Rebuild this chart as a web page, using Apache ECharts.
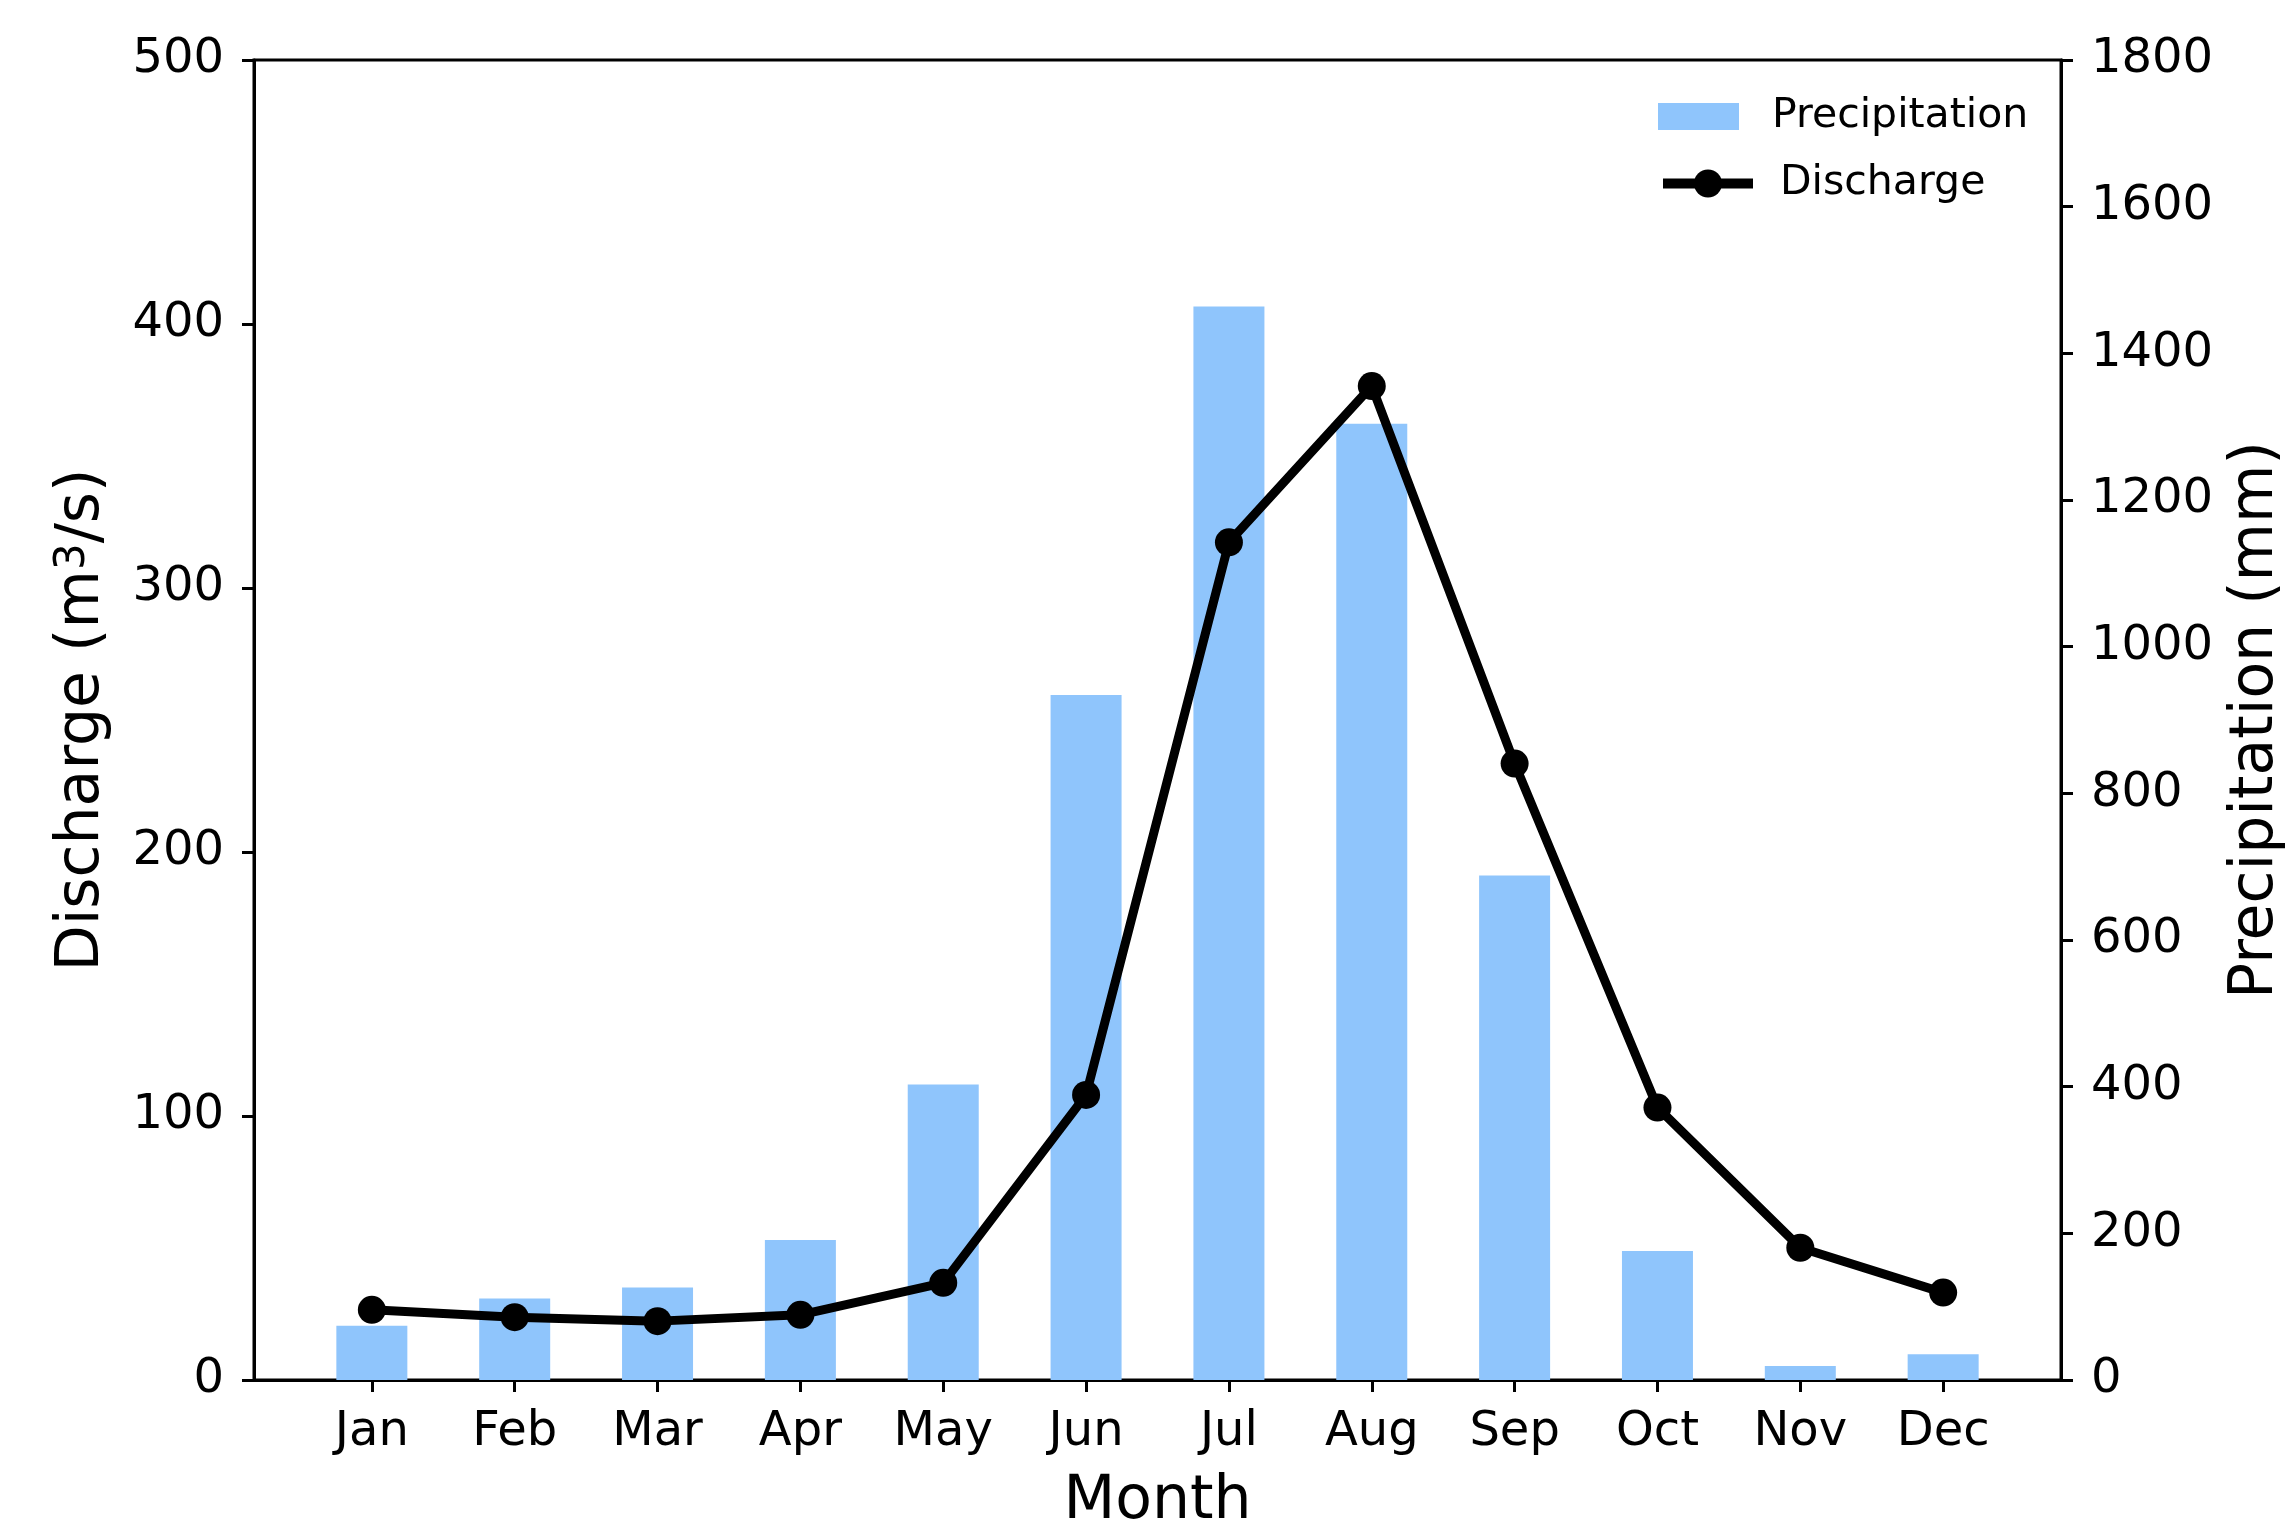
<!DOCTYPE html>
<html>
<head>
<meta charset="utf-8">
<script src="https://cdn.jsdelivr.net/npm/echarts@6/dist/echarts.min.js"></script>
<style>
html,body{margin:0;padding:0;background:#fff;}
#chart{width:2286px;height:1530px;}
</style>
</head>
<body>
<div id="chart"></div>
<script>
const months = ['Jan','Feb','Mar','Apr','May','Jun','Jul','Aug','Sep','Oct','Nov','Dec'];
const precipitation = [74, 111, 126, 191, 403, 934, 1464, 1304, 688, 176, 19, 35];
const discharge = [26.6, 23.8, 22.3, 24.7, 36.8, 108, 317.3, 376.5, 233.5, 103.2, 50.1, 33.1];
const dischargeTicks = [0, 100, 200, 300, 400, 500];
const precipTicks = [0, 200, 400, 600, 800, 1000, 1200, 1400, 1600, 1800];

const FONT = 'DejaVu Sans';
const monthPos = months.map((m, i) => i);
const TICK_FS = 48;
const NAME_FS = 60;

const chart = echarts.init(document.getElementById('chart'), null, {renderer: 'canvas'});
chart.setOption({
  backgroundColor: '#fff',
  animation: false,
  textStyle: {fontFamily: FONT, color: '#000'},
  grid: {left: 254, right: 225, top: 60, bottom: 150, show: true, borderColor: '#000', borderWidth: 3, containLabel: false, outerBoundsMode: 'none'},
  legend: [
    {
      orient: 'vertical',
      left: 1658,
      top: 96,
      padding: 0,
      itemWidth: 81,
      itemHeight: 27,
      textStyle: {fontFamily: FONT, fontSize: 41, color: '#000', lineHeight: 41, padding: [0, 0, 0, 28]},
      data: [{name: 'Precipitation', icon: 'rect'}]
    },
    {
      orient: 'vertical',
      left: 1658,
      top: 163,
      padding: 0,
      itemWidth: 90,
      itemHeight: 35,
      textStyle: {fontFamily: FONT, fontSize: 41, color: '#000', lineHeight: 41, padding: [0, 0, 0, 22]},
      data: [{name: 'Discharge', lineStyle: {width: 10, color: '#000'}, itemStyle: {color: '#000'}}]
    }
  ],
  xAxis: {
    type: 'value',
    min: -0.825,
    max: 11.825,
    name: 'Month',
    nameLocation: 'middle',
    nameGap: 92,
    nameTextStyle: {fontFamily: FONT, fontSize: NAME_FS, color: '#000'},
    axisLine: {show: true, onZero: false, lineStyle: {color: '#000', width: 3}},
    axisTick: {show: true, inside: false, length: 12, lineStyle: {color: '#000', width: 3}, customValues: monthPos},
    axisLabel: {show: true, customValues: monthPos, formatter: v => months[Math.round(v)], fontFamily: FONT, fontSize: TICK_FS, color: '#000', margin: 29},
    splitLine: {show: false}
  },
  yAxis: [
    {
      type: 'value',
      position: 'left',
      min: 0,
      max: 500,
      interval: 100,
      name: 'Discharge (m{sup|3}/s)',
      nameLocation: 'middle',
      nameRotate: 90,
      nameGap: 142,
      nameTextStyle: {
        fontFamily: FONT, fontSize: NAME_FS, color: '#000',
        rich: {sup: {fontFamily: FONT, fontSize: 42, color: '#000', verticalAlign: 'top', lineHeight: 42, padding: [0, 0, 22, 0]}}
      },
      axisLine: {show: true, onZero: false, lineStyle: {color: '#000', width: 3}},
      axisTick: {show: true, inside: false, length: 12, lineStyle: {color: '#000', width: 3}},
      axisLabel: {fontFamily: FONT, fontSize: TICK_FS, color: '#000', margin: 30, padding: [8, 0, 0, 0], formatter: v => String(v)},
      splitLine: {show: false}
    },
    {
      type: 'value',
      position: 'right',
      min: 0,
      max: 1800,
      interval: 200,
      name: 'Precipitation (mm)',
      nameLocation: 'middle',
      nameRotate: 90,
      nameGap: 165,
      nameTextStyle: {fontFamily: FONT, fontSize: NAME_FS, color: '#000'},
      axisLine: {show: true, onZero: false, lineStyle: {color: '#000', width: 3}},
      axisTick: {show: true, inside: false, length: 12, lineStyle: {color: '#000', width: 3}},
      axisLabel: {fontFamily: FONT, fontSize: TICK_FS, color: '#000', margin: 30, padding: [8, 0, 0, 0], formatter: v => String(v)},
      splitLine: {show: false}
    }
  ],
  series: [
    {
      name: 'Precipitation',
      type: 'bar',
      yAxisIndex: 1,
      barWidth: 71,
      itemStyle: {color: '#8FC5FC'},
      z: 1,
      data: precipitation.map((v, i) => [i, v])
    },
    {
      name: 'Discharge',
      type: 'line',
      yAxisIndex: 0,
      symbol: 'circle',
      symbolSize: 28,
      lineStyle: {color: '#000', width: 9},
      itemStyle: {color: '#000'},
      z: 3,
      data: discharge.map((v, i) => [i, v])
    }
  ]
});
</script>
</body>
</html>
